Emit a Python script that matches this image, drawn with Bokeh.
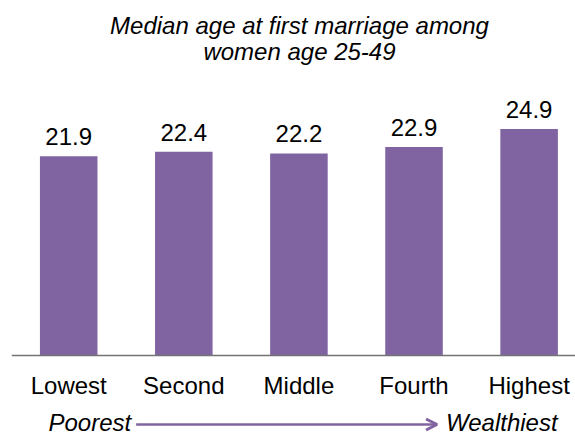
from bokeh.plotting import figure
from bokeh.models import Range1d, Label, Arrow, OpenHead, ColumnDataSource, Span
from bokeh.transform import dodge
from bokeh.core.properties import value
from bokeh.embed import file_html
from bokeh.resources import INLINE

# ---- data ----
categories = ["Lowest", "Second", "Middle", "Fourth", "Highest"]
median_age = [21.9, 22.4, 22.2, 22.9, 24.9]
value_labels = ["21.9", "22.4", "22.2", "22.9", "24.9"]
title_lines = ["Median age at first marriage among", "women age 25-49"]
left_note = "Poorest"
right_note = "Wealthiest"

PURPLE = "#8064A2"
FONT = "Liberation Sans"

positions = list(range(len(categories)))
src = ColumnDataSource(dict(x=positions, v=median_age, lab=value_labels, cat=categories))

p = figure(width=575, height=435,
           x_range=Range1d(-0.497, 4.403), y_range=Range1d(-8.791, 39.011),
           output_backend="svg", toolbar_location=None,
           x_axis_location=None, y_axis_location=None,
           min_border_left=11, min_border_right=0,
           min_border_top=0, min_border_bottom=0)
p.outline_line_color = None
p.xgrid.grid_line_color = None
p.ygrid.grid_line_color = None
p.background_fill_color = "white"
p.border_fill_color = "white"

# bars
p.vbar(x="x", bottom=0, top="v", width=0.5, source=src, fill_color=PURPLE, line_color=None)

# baseline (category axis line)
p.add_layout(Span(location=0, dimension="width", line_color="#737373", line_width=1.5))

# value labels above bars
p.text(x="x", y=dodge("v", 2.143, range=p.y_range), text="lab", source=src,
       text_align="center", text_baseline="middle",
       text_font=value(FONT), text_font_size="24px", text_color="#000000")

# category labels under the axis line
p.text(x="x", y=-3.242, text="cat", source=src,
       text_align="center", text_baseline="middle",
       text_font=value(FONT), text_font_size="24px", text_color="#000000")

# title lines
for txt, yy in zip(title_lines, [36.3, 33.45]):
    p.add_layout(Label(x=2.005, y=yy, text=txt, text_align="center",
                       text_baseline="middle", text_font=FONT,
                       text_font_size="24px", text_font_style="italic",
                       text_color="#000000"))

# poorest -> wealthiest
p.add_layout(Label(x=-0.1755, y=-7.308, text=left_note, text_align="left",
                   text_baseline="middle", text_font=FONT,
                   text_font_size="24px", text_font_style="italic",
                   text_color="#000000"))
p.add_layout(Label(x=3.278, y=-7.308, text=right_note, text_align="left",
                   text_baseline="middle", text_font=FONT,
                   text_font_size="24px", text_font_style="italic",
                   text_color="#000000"))
p.add_layout(Arrow(x_start=0.586, y_start=-7.582, x_end=3.20, y_end=-7.582,
                   line_color=PURPLE, line_width=2.5,
                   end=OpenHead(size=11, line_color=PURPLE, line_width=3)))

open("out.html", "w").write(file_html(p, INLINE))
